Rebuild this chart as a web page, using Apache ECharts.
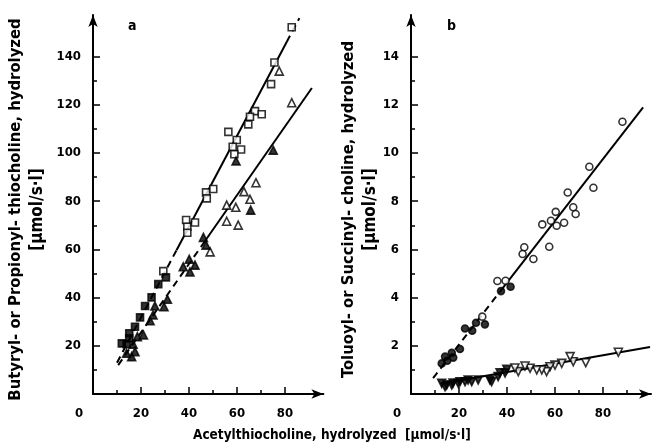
<!DOCTYPE html>
<html>
<head>
<meta charset="utf-8">
<script src="https://cdn.jsdelivr.net/npm/echarts@6/dist/echarts.min.js"></script>
<style>
  html, body { margin: 0; padding: 0; background: #fff; }
  #main { width: 654px; height: 442px; }
</style>
</head>
<body>
<div id="main"></div>
<script>
// 数据：点 [x, y]
// a 图：Butyryl / Propionyl thiocholine
const aSquaresOpen = [[82.8,152.2],[75.6,137.6],[74.2,128.6],[67.5,117.4],[70.3,116.1],[65.4,115.1],[64.7,111.9],[56.4,108.8],[59.9,105.4],[58.2,102.6],[61.7,101.5],[58.9,99.5],[50.1,85.1],[47.1,83.7],[47.4,81.2],[38.8,72.2],[42.5,71.2],[39.3,69.4],[39.3,66.9],[29.3,51]];
const aSquaresFilled = [[30.4,48.4],[27.2,45.6],[24.4,40.1],[21.7,36.5],[19.6,31.8],[17.5,27.9],[15.1,25.2],[15.1,23.1],[12,21],[14,20.7]];
const aTrianglesOpen = [[77.6,134],[82.8,120.9],[67.9,87.7],[62.9,84],[65.4,80.8],[55.7,78.4],[59.5,77.5],[55.7,71.7],[60.5,70.1],[48.8,59]];
const aTrianglesFilled = [[75.1,101.2],[59.6,96.7],[65.7,76.3],[46,65],[47.1,61.8],[40.1,55.9],[37.6,52.8],[42.5,53.5],[40.4,50.7],[31,39.3],[25.8,36.5],[29.6,36.2],[25,32.8],[23.8,30.4],[21,24.5],[18.5,23.8],[16.7,20.7],[17.5,17.6],[16.1,15.5],[14,16.9]];
// 回归线（虚线段 + 实线段）
const aUpperDash = [[10,13],[34.8,59.7]];
const aUpperSolid = [[34.8,59.7],[80.7,146.1]];
const aUpperDashTop = [[80.7,146.1],[86,156]];
const aLowerDash = [[10.5,12],[45,61.1]];
const aLowerSolid = [[45,61.1],[91.2,127]];

// b 图：Toluoyl / Succinyl choline
const bCirclesOpen = [[88.1,11.3],[74.3,9.43],[76,8.56],[65.3,8.36],[67.6,7.75],[68.6,7.47],[60.3,7.56],[54.7,7.04],[58.3,7.19],[60.7,6.98],[63.8,7.11],[57.6,6.11],[47.2,6.09],[46.5,5.81],[51,5.6],[36,4.69],[39.4,4.7],[29.7,3.21]];
const bCirclesFilled = [[37.5,4.27],[41.5,4.45],[30.8,2.89],[27.1,2.96],[25.5,2.63],[22.5,2.72],[20.4,1.87],[17,1.71],[17.6,1.51],[14.2,1.55],[15.1,1.38],[12.8,1.27]];
const bTrianglesOpen = [[86.4,1.73],[72.8,1.3],[67.6,1.34],[66.3,1.55],[62.8,1.27],[60,1.2],[57.9,1.13],[56.5,0.93],[54.5,1.0],[52.4,1.0],[49.6,1.07],[47.5,1.16],[44.7,0.93],[43.3,1.08]];
const bTrianglesFilled = [[39.9,1.02],[37.1,0.88],[39.2,0.87],[36.3,0.72],[33.6,0.51],[32.9,0.58],[28,0.58],[25.3,0.51],[22.5,0.51],[23.8,0.58],[19.7,0.44],[20.4,0.51],[17,0.37],[17.5,0.45],[14.2,0.3],[14.9,0.37],[12.8,0.44]];
const bUpperDash = [[9.2,0.66],[37,4.24]];
const bUpperSolid = [[37,4.24],[96.7,11.9]];
const bLowerSolid = [[13.5,0.45],[99.6,1.95]];

// 刻度
const xMajorTicks = [0, 20, 40, 60, 80];
const xMinorTicks = [10, 30, 50, 70];
const xMinorTicksB = [10, 30, 50, 70, 90];
const aYMajorTicks = [20, 40, 60, 80, 100, 120, 140];
const aYMinorTicks = [10, 30, 50, 70, 90, 110, 130];
const bYMajorTicks = [2, 4, 6, 8, 10, 12, 14];
const bYMinorTicks = [1, 3, 5, 7, 9, 11, 13];

const font = "'DejaVu Sans Condensed', 'Liberation Sans Narrow', 'DejaVu Sans', sans-serif";
const unit = '[µmol/s·l]';

const chart = echarts.init(document.getElementById('main'));

const lineStyleAxis = { color: '#000', width: 2 };
const labelStyle = { color: '#000', fontFamily: font, fontWeight: 'bold', fontSize: 13 };

function xMajor(grid, max) {
  return {
    type: 'value', gridIndex: grid, min: 0, max: max, position: 'bottom',
    splitLine: { show: false },
    axisLine: { lineStyle: lineStyleAxis, symbol: ['none', 'arrow'], symbolSize: [7, 12] },
    axisTick: { inside: true, length: 7, lineStyle: { color: '#000', width: 1.5 }, customValues: xMajorTicks.slice(1) },
    axisLabel: Object.assign({}, labelStyle, {
      margin: 13, customValues: xMajorTicks,
      formatter: v => v === 0 ? '{z|0}' : String(v),
      rich: { z: Object.assign({}, labelStyle, { padding: [0, 28, 0, 0] }) }
    })
  };
}
function xMinor(grid, max, ticks) {
  return {
    type: 'value', gridIndex: grid, min: 0, max: max, position: 'bottom',
    splitLine: { show: false }, axisLine: { show: false }, axisLabel: { show: false },
    axisTick: { inside: true, length: 4, lineStyle: { color: '#000', width: 1.5 }, customValues: ticks }
  };
}
// y 轴名称两行：说明 + 单位（单位那行字大一些）
function yMajor(grid, max, ticks, name, gap) {
  return {
    type: 'value', gridIndex: grid, min: 0, max: max, position: 'left',
    splitLine: { show: false },
    axisLine: { lineStyle: lineStyleAxis, symbol: ['none', 'arrow'], symbolSize: [7, 12] },
    axisTick: { inside: true, length: 7, lineStyle: { color: '#000', width: 1.5 }, customValues: ticks },
    axisLabel: Object.assign({}, labelStyle, { margin: 12, customValues: ticks }),
    name: '{t|' + name + '}\n{u|' + unit + '}', nameLocation: 'middle', nameGap: gap,
    nameTextStyle: {
      padding: [0, 10, 0, 0],
      rich: {
        t: { color: '#000', fontFamily: font, fontWeight: 'bold', fontSize: 16.5, lineHeight: 22 },
        u: { color: '#000', fontFamily: font, fontWeight: 'bold', fontSize: 17, lineHeight: 22 }
      }
    }
  };
}
function yMinor(grid, max, ticks) {
  return {
    type: 'value', gridIndex: grid, min: 0, max: max, position: 'left',
    splitLine: { show: false }, axisLine: { show: false }, axisLabel: { show: false },
    axisTick: { inside: true, length: 4, lineStyle: { color: '#000', width: 1.5 }, customValues: ticks }
  };
}

function scatter(xi, yi, data, symbol, size, filled, rotate) {
  return {
    type: 'scatter', xAxisIndex: xi, yAxisIndex: yi, data: data,
    symbol: symbol, symbolSize: size, symbolRotate: rotate || 0, z: 5,
    itemStyle: { color: filled ? '#000' : '#fff', borderColor: '#000', borderWidth: 1.6 }
  };
}
function fit(xi, yi, data, dashed) {
  return {
    type: 'line', xAxisIndex: xi, yAxisIndex: yi, data: data, symbol: 'none', z: 3,
    lineStyle: { color: '#000', width: 2, type: dashed ? [7, 5] : 'solid' }
  };
}

const option = {
  animation: false,
  backgroundColor: '#fff',
  title: [
    { text: 'a', left: 123, top: 14, textStyle: { fontFamily: font, fontWeight: 'bold', fontSize: 14, color: '#000' } },
    { text: 'b', left: 442, top: 14, textStyle: { fontFamily: font, fontWeight: 'bold', fontSize: 14, color: '#000' } },
    { text: 'Acetylthiocholine, hydrolyzed  ' + unit, left: 188, top: 423,
      textStyle: { fontFamily: font, fontWeight: 'bold', fontSize: 13.5, color: '#000' } }
  ],
  grid: [
    { left: 93, top: 15, width: 230.4, height: 379 },
    { left: 411, top: 15, width: 240, height: 379 }
  ],
  xAxis: [
    xMajor(0, 96), xMinor(0, 96, xMinorTicks),
    xMajor(1, 100), xMinor(1, 100, xMinorTicksB)
  ],
  yAxis: [
    yMajor(0, 157.3, aYMajorTicks, 'Butyryl- or Propionyl- thiocholine, hydrolyzed', 44),
    yMinor(0, 157.3, aYMinorTicks),
    yMajor(1, 15.73, bYMajorTicks, 'Toluoyl- or Succinyl- choline, hydrolyzed', 28),
    yMinor(1, 15.73, bYMinorTicks)
  ],
  series: [
    fit(0, 0, aUpperDash, true), fit(0, 0, aUpperSolid, false), fit(0, 0, aUpperDashTop, true),
    fit(0, 0, aLowerDash, true), fit(0, 0, aLowerSolid, false),
    scatter(0, 0, aSquaresOpen, 'rect', 7, false),
    scatter(0, 0, aSquaresFilled, 'rect', 7, true),
    scatter(0, 0, aTrianglesOpen, 'triangle', 8, false),
    scatter(0, 0, aTrianglesFilled, 'triangle', 8, true),
    fit(2, 2, bUpperDash, true), fit(2, 2, bUpperSolid, false),
    fit(2, 2, bLowerSolid, false),
    scatter(2, 2, bCirclesOpen, 'circle', 7, false),
    scatter(2, 2, bCirclesFilled, 'circle', 7, true),
    scatter(2, 2, bTrianglesOpen, 'triangle', 8, false, 180),
    scatter(2, 2, bTrianglesFilled, 'triangle', 8, true, 180)
  ]
};

chart.setOption(option);
</script>
</body>
</html>
